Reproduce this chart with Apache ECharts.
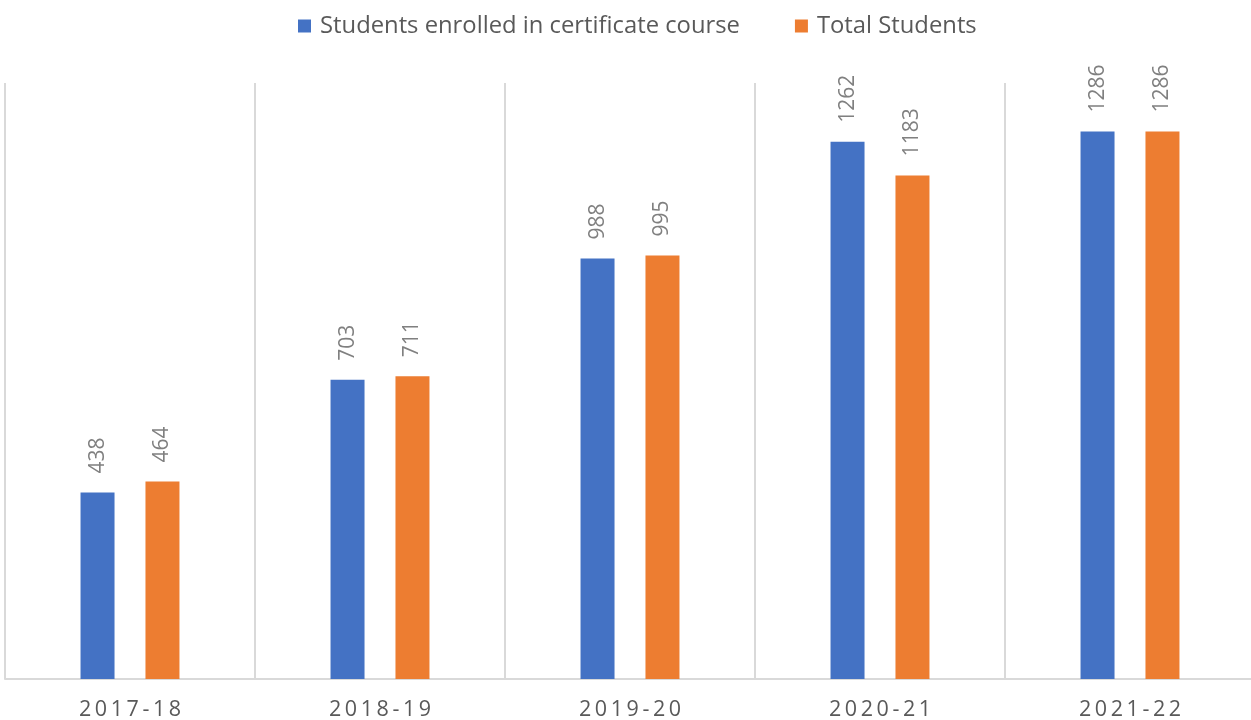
<!DOCTYPE html>
<html><head><meta charset="utf-8">
<script src="https://cdn.jsdelivr.net/npm/echarts@6/dist/echarts.min.js"></script>
<style>html,body{margin:0;padding:0;background:#fff}#c{width:1251px;height:720px}</style>
</head><body><div id="c"></div>
<script>
const categories = ['2017-18', '2018-19', '2019-20', '2020-21', '2021-22'];
const enrolled = [438, 703, 988, 1262, 1286];
const totalStudents = [464, 711, 995, 1183, 1286];
const seriesNames = ['Students enrolled in certificate course', 'Total Students'];

const FONT = 'Open Sans';
const labelCfg = {
  show: true, position: 'top', rotate: 90, align: 'left', verticalAlign: 'middle',
  distance: 19, color: '#808080', fontSize: 21, fontFamily: FONT
};
const chart = echarts.init(document.getElementById('c'), null, {renderer: 'canvas'});
chart.setOption({
  animation: false,
  legend: {
    top: 9, left: 293, itemWidth: 13, itemHeight: 13, itemGap: 55,
    icon: 'rect',
    textStyle: {fontSize: 23.8, color: '#595959', fontFamily: FONT, padding: [0, 0, 0, 4]}
  },
  grid: {left: 5, top: 83, bottom: 41, width: 1250, containLabel: false, outerBoundsMode: 'none'},
  xAxis: {
    type: 'category', data: categories,
    axisLine: {show: true, lineStyle: {color: '#d9d9d9', width: 2}},
    axisTick: {show: false},
    splitLine: {show: true, showMinLine: true, showMaxLine: true, lineStyle: {color: '#d9d9d9', width: 2}},
    axisLabel: {
      margin: 20, fontSize: 21.5, color: '#595959', fontFamily: FONT,
      formatter: v => v.split('').join('\u2009')
    }
  },
  yAxis: {type: 'value', min: 0, max: 1400, show: false, splitLine: {show: false}},
  series: [
    {name: seriesNames[0], type: 'bar', data: enrolled, barWidth: 34, barGap: '91%',
     itemStyle: {color: '#4472C4'}, label: labelCfg},
    {name: seriesNames[1], type: 'bar', data: totalStudents, barWidth: 34,
     itemStyle: {color: '#ED7D31'}, label: labelCfg}
  ]
});
</script></body></html>
